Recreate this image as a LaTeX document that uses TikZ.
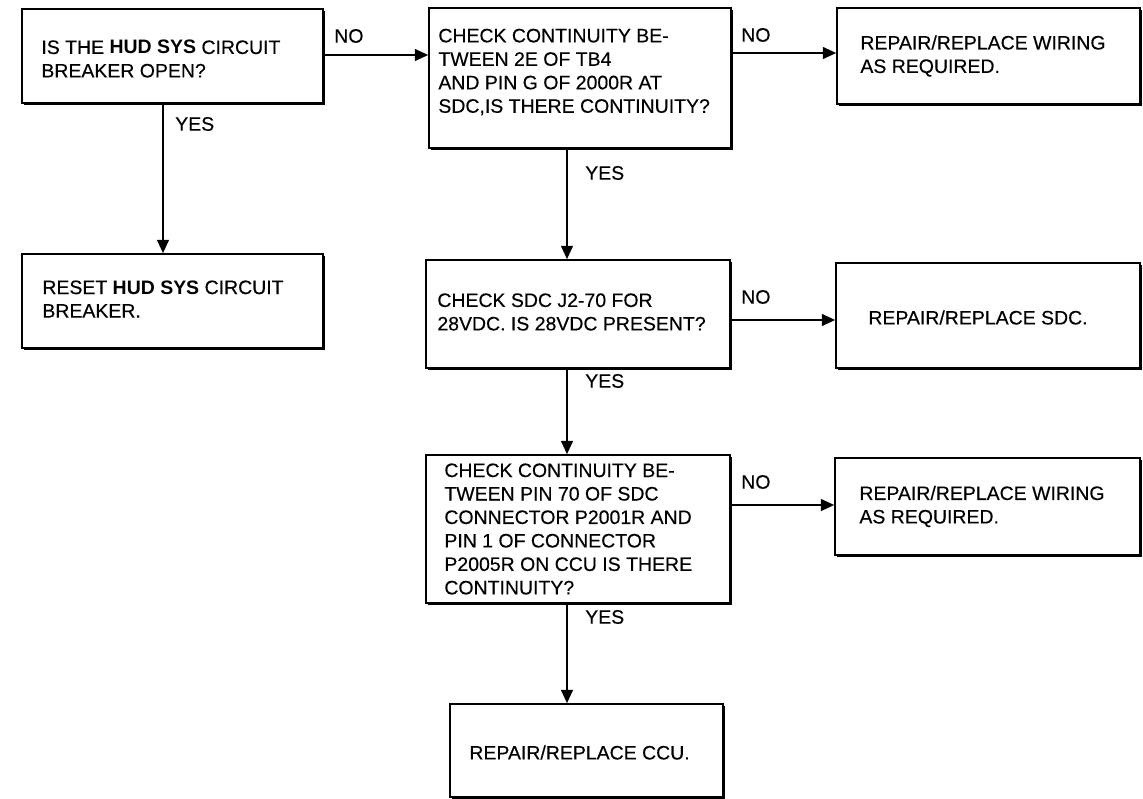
\documentclass[tikz,border=0pt]{standalone}
\usepackage{fontspec}
\setmainfont{Liberation Sans}[UprightFeatures={FakeBold=0.3}]
\usetikzlibrary{arrows.meta,calc,shadows}
\begin{document}
\begin{tikzpicture}[x=0.75pt,y=-0.75pt,
  box/.style={draw=black, line width=1.3pt, fill=white, rectangle, inner sep=0pt,
     general shadow={fill=black, shadow xshift=1.3pt, shadow yshift=-1.3pt}},
  bx/.style 2 args={box, minimum width=#1*0.75pt, minimum height=#2*0.75pt},
  txt/.style={anchor=west, align=left, inner sep=0pt, font=\fontsize{14.6}{17.6}\selectfont},
  lbl/.style={anchor=west, inner sep=0pt, font=\fontsize{14.6}{17.6}\selectfont},
  arr/.style={line width=1pt, -{Triangle[length=10pt,width=9pt]}}
]
\useasboundingbox (0,0) rectangle (1143,799);
\fill[white] (0,0) rectangle (1143,799);

% boxes
\node[bx={301}{94}]  (A) at (172.5,56) {};
\node[bx={302}{140}] (B) at (580,78) {};
\node[bx={303}{96}]  (C) at (988.5,56) {};
\node[bx={301}{94}]  (E) at (172.5,301) {};
\node[bx={304}{108}] (D) at (578,314) {};
\node[bx={304}{105}] (F) at (988,315.5) {};
\node[bx={304}{148}] (G) at (578,529) {};
\node[bx={305}{97}]  (H) at (987.5,506.5) {};
\node[bx={273}{93}]  (I) at (586.5,750.5) {};

% texts
\node[txt] (At) at ($(A.west)+(20,3)$) {IS THE \textbf{HUD SYS} CIRCUIT\\BREAKER OPEN?};
\node[txt] (Bt) at ($(B.west)+(10,-6)$) {CHECK CONTINUITY BE-\\TWEEN 2E OF TB4\\AND PIN G OF 2000R AT\\SDC,IS THERE CONTINUITY?};
\node[txt] (Ct) at ($(C.west)+(24,0)$) {REPAIR/REPLACE WIRING\\AS REQUIRED.};
\node[txt] (Et) at ($(E.west)+(21,-2)$) {RESET \textbf{HUD SYS} CIRCUIT\\BREAKER.};
\node[txt] (Dt) at ($(D.west)+(12,-2)$) {CHECK SDC J2-70 FOR\\28VDC. IS 28VDC PRESENT?};
\node[txt] (Ft) at ($(F.west)+(33,2)$) {REPAIR/REPLACE SDC.};
\node[txt] (Gt) at ($(G.west)+(19,0)$) {CHECK CONTINUITY BE-\\TWEEN PIN 70 OF SDC\\CONNECTOR P2001R AND\\PIN 1 OF CONNECTOR\\P2005R ON CCU IS THERE\\CONTINUITY?};
\node[txt] (Ht) at ($(H.west)+(25,0)$) {REPAIR/REPLACE WIRING\\AS REQUIRED.};
\node[txt] (It) at ($(I.west)+(20,2)$) {REPAIR/REPLACE CCU.};

% connector guides
\coordinate (yAB) at (0,55);
\coordinate (yBC) at (0,53);
\coordinate (yDF) at (0,320);
\coordinate (yGH) at (0,505);
\coordinate (xL) at (163,0);
\coordinate (xM) at (567,0);

\draw[arr] (A.east |- yAB) -- (B.west |- yAB);
\draw[arr] (B.east |- yBC) -- (C.west |- yBC);
\draw[arr] (A.south -| xL) -- (E.north -| xL);
\draw[arr] (B.south -| xM) -- (D.north -| xM);
\draw[arr] (D.east |- yDF) -- (F.west |- yDF);
\draw[arr] (D.south -| xM) -- (G.north -| xM);
\draw[arr] (G.east |- yGH) -- (H.west |- yGH);
\draw[arr] (G.south -| xM) -- (I.north -| xM);

% labels
\node[lbl] (noAB) at (334,36) {NO};
\node[lbl] (noBC) at (741,35) {NO};
\node[lbl] (yesAE) at (175,124) {YES};
\node[lbl] (yesBD) at (585,173) {YES};
\node[lbl] (noDF) at (741,297) {NO};
\node[lbl] (yesDG) at (585,381) {YES};
\node[lbl] (noGH) at (741,482) {NO};
\node[lbl] (yesGI) at (585,617) {YES};
\end{tikzpicture}
\end{document}
